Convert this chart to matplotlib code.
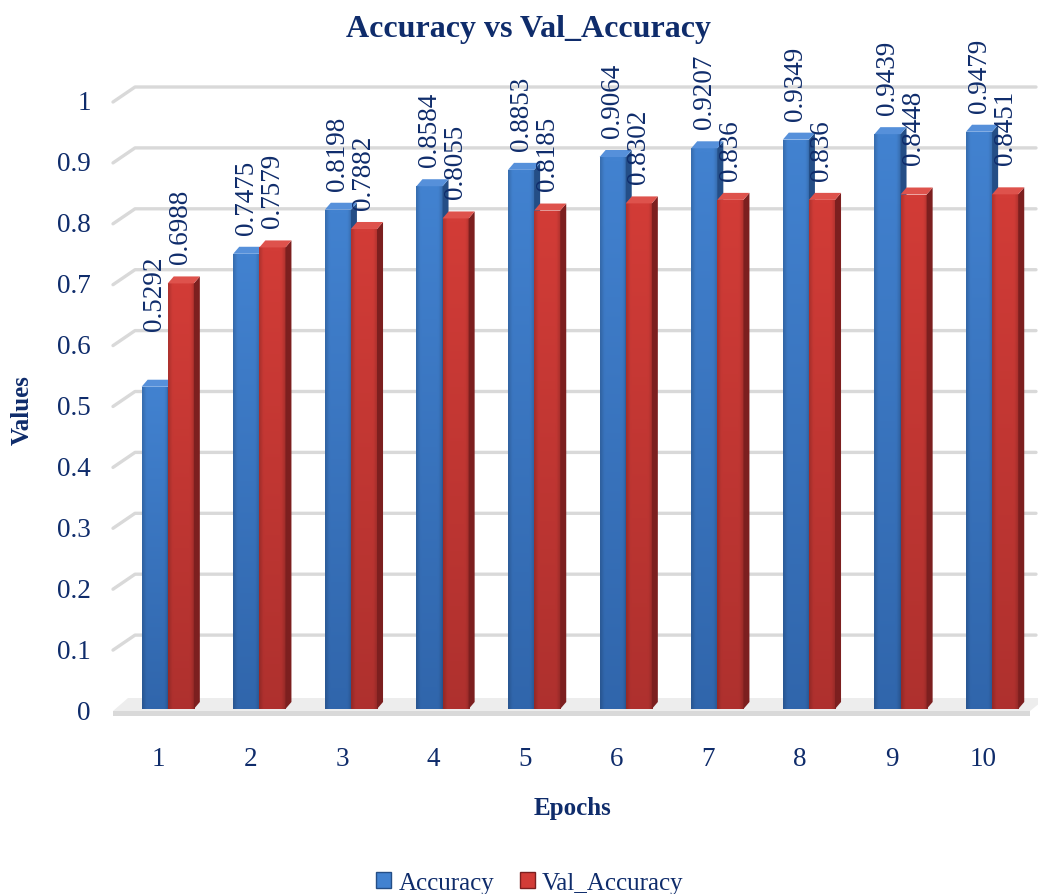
import numpy as np
import matplotlib
matplotlib.use("Agg")
import matplotlib.pyplot as plt
from matplotlib.patches import Polygon, Patch

# ---- data -------------------------------------------------------------
epochs = [1, 2, 3, 4, 5, 6, 7, 8, 9, 10]
accuracy = [0.5292, 0.7475, 0.8198, 0.8584, 0.8853, 0.9064, 0.9207, 0.9349, 0.9439, 0.9479]
val_accuracy = [0.6988, 0.7579, 0.7882, 0.8055, 0.8185, 0.8302, 0.836, 0.836, 0.8448, 0.8451]
series_names = ["Accuracy", "Val_Accuracy"]
y_ticks = [0, 0.1, 0.2, 0.3, 0.4, 0.5, 0.6, 0.7, 0.8, 0.9, 1.0]
y_tick_labels = ["0", "0.1", "0.2", "0.3", "0.4", "0.5", "0.6", "0.7", "0.8", "0.9", "1"]

# ---- styling ------------------------------------------------------------
plt.rcParams["font.family"] = ["Liberation Serif", "DejaVu Serif"]
NAVY = "#0F2C6B"
GRID = "#D9D9D9"
STYLE = {
    "Accuracy": dict(light="#4282D0", dark="#2C5FA3", side="#244E86", top="#5690DA"),
    "Val_Accuracy": dict(light="#D23C37", dark="#A62E2C", side="#7C1F1F", top="#DE524C"),
}

W, H, DPI = 1038, 895, 100
fig = plt.figure(figsize=(W / DPI, H / DPI), dpi=DPI)
fig.patch.set_facecolor("white")

# axes frame in pixels: front floor left edge, bar base, plot width/height
AX_L, AX_B, AX_W, AX_H = 113, 710, 916, 609
ax = fig.add_axes([AX_L / W, 1 - AX_B / H, AX_W / W, AX_H / H])
X0, X1 = 0.5, 10.5
ax.set_xlim(X0, X1)
ax.set_ylim(0, 1)
ax.set_autoscale_on(False)
for s in ax.spines.values():
    s.set_visible(False)

DX = (X1 - X0) / AX_W  # data units per pixel
DY = 1.0 / AX_H


def px2data(px, py):
    return X0 + (px - AX_L) * DX, (AX_B - py) * DY


# back-wall gridlines with a short slanted lead-in (pseudo 3-D)
for t in y_ticks[1:]:
    xa, ya = px2data(AX_L, AX_B - t * AX_H + 2)
    xb, yb = px2data(AX_L + 22, AX_B - t * AX_H - 13)
    xc, _ = px2data(1036, 0)
    ax.plot([xa, xb, xc], [ya, yb, yb], color=GRID, lw=2.4,
            solid_capstyle="round", clip_on=False, zorder=0.5)

# floor slab
top_pts = [px2data(*p) for p in [(113, 712), (1030, 712), (1046, 699), (128, 699)]]
front_pts = [px2data(*p) for p in [(113, 712), (1030, 712), (1030, 717), (113, 717)]]
ax.add_patch(Polygon(top_pts, closed=True, fc="#EDEDED", ec="none", clip_on=False, zorder=1))
ax.add_patch(Polygon(front_pts, closed=True, fc="#D9D9D9", ec="none", clip_on=False, zorder=1))


def shaded(light, dark, n=64):
    """Face gradient: lighter at the top, darker towards the base, soft bevel at the edges."""
    l = np.array(matplotlib.colors.to_rgb(light))
    d = np.array(matplotlib.colors.to_rgb(dark))
    v = np.linspace(0, 1, n)[:, None, None]          # 0 top -> 1 bottom
    h = np.linspace(-1, 1, 16)[None, :, None]
    img = l * (1 - 0.8 * v) + d * (0.8 * v)
    edge = 1 - 0.15 * np.clip(np.abs(h) - 0.7, 0, None) / 0.3
    return np.clip(img * edge, 0, 1)


SIDE_PX, TOP_PX = 6, 7
offsets = {"Accuracy": -0.045, "Val_Accuracy": 0.24}
width = 0.285
label_gap_pt = 14.5
# extra lift (in px) for the few labels that sit higher above their bars
label_nudge_px = {("Accuracy", 0): 37, ("Val_Accuracy", 8): 10, ("Val_Accuracy", 9): 10}

x = np.array(epochs, dtype=float)
for k, (name, vals) in enumerate(zip(series_names, [accuracy, val_accuracy])):
    st = STYLE[name]
    z = 3 + k
    bars = ax.bar(x + offsets[name], vals, width=width, color=st["dark"],
                  edgecolor="none", zorder=z)
    img = shaded(st["light"], st["dark"])
    for i, b in enumerate(bars):
        bx, bw, bh = b.get_x(), b.get_width(), b.get_height()
        im = ax.imshow(img, extent=(bx, bx + bw, 0, bh), aspect="auto",
                       origin="upper", zorder=z + 0.1, interpolation="bilinear")
        im.set_clip_path(b)
        sx, sy = SIDE_PX * DX, TOP_PX * DY
        ax.add_patch(Polygon([(bx + bw, 0), (bx + bw + sx, sy), (bx + bw + sx, bh + sy), (bx + bw, bh)],
                             closed=True, fc=st["side"], ec="none", zorder=z + 0.2))
        ax.add_patch(Polygon([(bx, bh), (bx + bw, bh), (bx + bw + sx, bh + sy), (bx + sx, bh + sy)],
                             closed=True, fc=st["top"], ec="none", zorder=z + 0.2))
        lift = label_gap_pt + label_nudge_px.get((name, i), 0) * 72 / DPI
        ax.annotate(f"{vals[i]:g}", xy=(bx + bw / 2, bh), xytext=(0, lift),
                    textcoords="offset points", rotation=90, ha="center", va="bottom",
                    fontsize=19.5, color=NAVY, zorder=10)

# ticks
ax.set_yticks(y_ticks, y_tick_labels)
ax.set_xticks(epochs, [str(e) for e in epochs])
ax.tick_params(axis="y", length=0, pad=16, labelsize=19.5, labelcolor=NAVY)
ax.tick_params(axis="x", length=0, pad=27, labelsize=19.5, labelcolor=NAVY)

# titles
fig.text(528 / W, 1 - 30 / H, "Accuracy vs Val_Accuracy", ha="center", va="center",
         fontsize=23, fontweight="bold", color=NAVY)
fig.text(22 / W, 1 - 410 / H, "Values", ha="center", va="center", rotation=90,
         fontsize=18, fontweight="bold", color=NAVY)
fig.text(572 / W, 1 - 808 / H, "Epochs", ha="center", va="center",
         fontsize=18, fontweight="bold", color=NAVY)

# legend
handles = [Patch(facecolor=STYLE[n]["light"], edgecolor=STYLE[n]["side"], lw=1.0, label=n)
           for n in series_names]
leg = fig.legend(handles=handles, loc="center", bbox_to_anchor=(530 / W, 1 - 884 / H),
                 ncol=2, frameon=False, fontsize=18, handlelength=0.6, handleheight=0.6,
                 handletextpad=0.3, columnspacing=1.0, borderaxespad=0, borderpad=0)
for t in leg.get_texts():
    t.set_color(NAVY)

fig.savefig("out.png", dpi=DPI, facecolor="white")
